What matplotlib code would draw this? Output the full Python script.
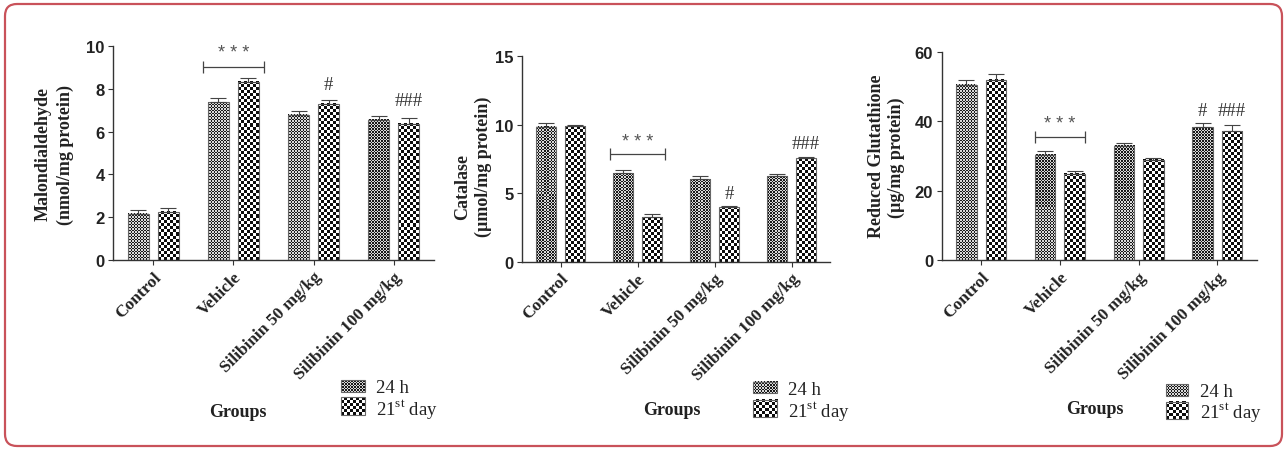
import numpy as np
import matplotlib.pyplot as plt
from matplotlib.patches import FancyBboxPatch, Rectangle

plt.rcParams['mathtext.fontset'] = 'custom'
plt.rcParams['mathtext.rm'] = 'Liberation Serif'

SERIF = 'Liberation Serif'
SANS = 'Liberation Sans'

groups = ["Control", "Vehicle", "Silibinin 50 mg/kg", "Silibinin 100 mg/kg"]
series = ["24 h", r"21$^{\mathrm{st}}$ day"]

# Malondialdehyde (nmol/mg protein)
mda_24h = [2.15, 7.37, 6.79, 6.56]
mda_24h_err = [0.19, 0.20, 0.17, 0.18]
mda_21d = [2.26, 8.33, 7.29, 6.36]
mda_21d_err = [0.17, 0.17, 0.20, 0.28]

# Catalase (umol/mg protein)
cat_24h = [9.86, 6.46, 6.04, 6.28]
cat_24h_err = [0.25, 0.21, 0.20, 0.10]
cat_21d = [9.89, 3.24, 4.02, 7.55]
cat_21d_err = [0.11, 0.22, 0.04, 0.10]

# Reduced glutathione (ug/mg protein)
gsh_24h = [50.5, 30.4, 32.8, 38.2]
gsh_24h_err = [1.3, 1.1, 1.0, 1.2]
gsh_21d = [51.9, 24.8, 28.8, 37.1]
gsh_21d_err = [1.6, 1.0, 0.7, 1.7]

# significance marks: (group, series index, y, text)
mda_marks = [(2, 1, 8.2, "#"), (3, 1, 7.43, "###")]
cat_marks = [(2, 1, 4.97, "#"), (3, 1, 8.6, "###")]
gsh_marks = [(3, 0, 43.2, "#"), (3, 1, 43.2, "###")]

W, H = 1287, 452
OFF, WIDTH = 0.187, 0.26
PAT = [(1.5, 0.1, 0.85), (3.0, 0.05, 1.0)]  # (cell px, dark, light) for 24 h / 21st day

fig = plt.figure(figsize=(W / 100, H / 100), dpi=100)


def px_axes(left, right, top, bottom):
    return fig.add_axes([left / W, 1 - bottom / H, (right - left) / W, (bottom - top) / H])


def texture(ax, x0, x1, y0, y1, cell, dark, light):
    (px0, py0), (px1, py1) = ax.transData.transform([(x0, y0), (x1, y1)])
    nx = max(1, int(round(abs(px1 - px0) / cell)))
    ny = max(1, int(round(abs(py1 - py0) / cell)))
    tex = np.add.outer(np.arange(ny), np.arange(nx)) % 2
    tex = dark + (light - dark) * tex
    ax.imshow(tex, cmap='gray', vmin=0, vmax=1, extent=[x0, x1, y0, y1],
              origin='lower', interpolation='nearest', aspect='auto', zorder=2)


def panel(box, ylim, yticks, values, errors, marks, bracket_y, stars_y, half):
    ax = px_axes(*box)
    ax.set_xlim(-0.5, 3.5)
    ax.set_ylim(*ylim)
    x = np.arange(len(groups))
    for i, (v, e) in enumerate(zip(values, errors)):
        xs = x + (i * 2 - 1) * OFF
        bars = ax.bar(xs, v, WIDTH, facecolor='none', edgecolor='#666', lw=0.8, zorder=3)
        for b in bars:
            texture(ax, b.get_x(), b.get_x() + b.get_width(), 0, b.get_height(), *PAT[i])
        ax.errorbar(xs, v, yerr=[np.zeros(len(v)), e], fmt='none', ecolor='#444',
                    elinewidth=0.8, capsize=5.5, capthick=0.8, zorder=4)
    # Vehicle vs control bracket
    ax.errorbar(1, bracket_y, xerr=half, fmt='none', ecolor='#444', elinewidth=0.9,
                capsize=4.3, capthick=0.9)
    ax.text(1, stars_y, "* * *", ha='center', va='center', fontsize=13,
            family=SANS, color='#555')
    for g, s, y, t in marks:
        ax.text(g + (s * 2 - 1) * OFF, y, t, ha='center', va='center', fontsize=13.5,
                family=SERIF, color='#333')
    ax.set_xlim(-0.5, 3.5)
    ax.set_ylim(*ylim)
    for side in ['top', 'right']:
        ax.spines[side].set_visible(False)
    for side in ['left', 'bottom']:
        ax.spines[side].set_color('#333')
        ax.spines[side].set_linewidth(1.0)
    ax.tick_params(direction='out', length=3.6, width=0.8, color='#333', pad=2.5)
    ax.set_xticks(x, groups, rotation=45, ha='right', rotation_mode='anchor',
                  family=SERIF, fontweight='bold', fontsize=12.5, color='#222')
    ax.set_yticks(yticks)
    ax.set_yticklabels([str(t) for t in yticks], family=SANS, fontweight='bold',
                       fontsize=12, color='#222')
    return ax


panel((113, 434, 47, 261), (0, 10), [0, 2, 4, 6, 8, 10],
      [mda_24h, mda_21d], [mda_24h_err, mda_21d_err], mda_marks, 9.0, 9.7, 0.38)
panel((522, 830, 57.3, 262.7), (0, 15), [0, 5, 10, 15],
      [cat_24h, cat_21d], [cat_24h_err, cat_21d_err], cat_marks, 7.87, 8.75, 0.36)
panel((941.7, 1256.7, 52.7, 261.3), (0, 60), [0, 20, 40, 60],
      [gsh_24h, gsh_21d], [gsh_24h_err, gsh_21d_err], gsh_marks, 35.4, 39.4, 0.32)

# overlay in pixel coordinates for labels, legends and frame
ov = fig.add_axes([0, 0, 1, 1], zorder=10)
ov.set_xlim(0, W)
ov.set_ylim(H, 0)
ov.axis('off')
ov.patch.set_alpha(0)

ylabels = [
    [("Malondialdehyde", 43.5, 154.5), ("(nmol/mg protein)", 65, 155)],
    [("Catalase", 462.5, 187.5), ("(\u00b5mol/mg protein)", 483.5, 166.7)],
    [("Reduced Glutathione", 876.7, 156.7), ("(\u00b5g/mg protein)", 896.7, 157.5)],
]
for lines in ylabels:
    for t, px, py in lines:
        ov.text(px, py, t, rotation=90, ha='center', va='center', family=SERIF,
                fontweight='bold', fontsize=13, color='#222')

groups_pos = [(238, 413), (671.7, 411), (1095, 410)]
for gx, gy in groups_pos:
    ov.text(gx, gy, "Groups", ha='center', va='center', family=SERIF,
            fontweight='bold', fontsize=13, color='#222')

# legend: (patch x0, x1, [row y0, y1], text x, [baselines])
legends = [
    (341, 365, [(381, 393), (398, 416)], 376, [393, 415.7]),
    (752.7, 777, [(382.7, 394.3), (400.7, 418)], 788, [395, 417.7]),
    (1165.7, 1188, [(385, 396.7), (402.7, 420)], 1200, [397, 419]),
]
for x0, x1, rows, tx, bases in legends:
    for i, ((y0, y1), base) in enumerate(zip(rows, bases)):
        texture(ov, x0, x1, y1, y0, *PAT[i])
        ov.add_patch(Rectangle((x0, y0), x1 - x0, y1 - y0, facecolor='none',
                               edgecolor='#666', lw=0.8, zorder=3))
        ov.text(tx, base, series[i], ha='left', va='baseline', family=SERIF,
                fontsize=13.5, color='#222')

ov.add_patch(FancyBboxPatch((5, 5), W - 10, H - 10,
                            boxstyle="round,pad=0,rounding_size=12",
                            facecolor='none', edgecolor='#c9525a', lw=1.6))
ov.set_xlim(0, W)
ov.set_ylim(H, 0)

fig.savefig("out.png", dpi=100)
